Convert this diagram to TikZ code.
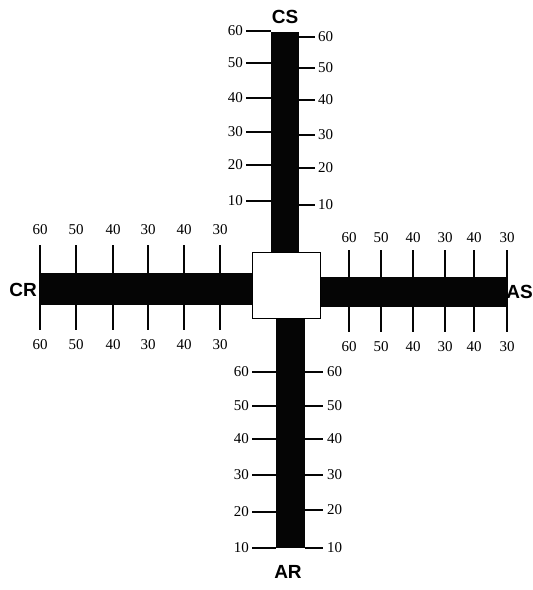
\documentclass[tikz,border=0pt]{standalone}
\usepackage{fontspec}
\setmainfont{Liberation Serif}
\setsansfont{Liberation Sans}
\definecolor{barblack}{RGB}{5,5,5}
\tikzset{
  every node/.style={font=\fontsize{15}{15}\selectfont, inner sep=0pt},
  bar/.style={fill=barblack, draw=none},
  tick/.style={line width=1.6pt, barblack},
  axlabel/.style={font=\sffamily\bfseries\fontsize{19}{19}\selectfont},
  hub/.style={draw, line width=1pt, fill=white, minimum width=68pt, minimum height=66pt},
}

\begin{document}
\begin{tikzpicture}[x=1pt,y=-1pt]
  \useasboundingbox (0,0) rectangle (533,590);
  % bars
  \draw[bar] (271,32) rectangle (299,260);
  \draw[bar] (276,310) rectangle (305,548);
  \draw[bar] (40,273) rectangle (260,305);
  \draw[bar] (312,277) rectangle (507,307);
  \node[hub] (box) at (286,285) {};

  % CS scale (top)
  \foreach \y/\v in {31/60,63/50,98/40,132/30,165/20,201/10}{
    \draw[tick] (246,\y) -- (271,\y);
    \node[anchor=east] (csl\v) at (243,\y) {\v};
  }
  \foreach \y/\v in {37/60,68/50,100/40,135/30,168/20,205/10}{
    \draw[tick] (299,\y) -- (315,\y);
    \node[anchor=west] (csr\v) at (318,\y) {\v};
  }
  % AR scale (bottom)
  \foreach \y/\v in {372/60,406/50,439/40,475/30,512/20,548/10}{
    \draw[tick] (252,\y) -- (276,\y);
    \node[anchor=east] (arl\v) at (249,\y) {\v};
  }
  \foreach \y/\v in {372/60,406/50,439/40,475/30,510/20,548/10}{
    \draw[tick] (305,\y) -- (323,\y);
    \node[anchor=west] (arr\v) at (327,\y) {\v};
  }
  % CR scale (left)
  \foreach \x/\v [count=\i] in {40/60,76/50,113/40,148/30,184/40,220/30}{
    \draw[tick] (\x,245) -- (\x,330);
    \node (crt\i) at (\x,230) {\v};
    \node (crb\i) at (\x,345) {\v};
  }
  % AS scale (right)
  \foreach \x/\v [count=\i] in {349/60,381/50,413/40,445/30,474/40,507/30}{
    \draw[tick] (\x,250) -- (\x,332);
    \node (ast\i) at (\x,238) {\v};
    \node (asb\i) at (\x,347) {\v};
  }

  \node[axlabel] (cs) at (285,17) {CS};
  \node[axlabel] (ar) at (288,572) {AR};
  \node[axlabel, anchor=east] (cr) at (37,290) {CR};
  \node[axlabel, anchor=east] (as) at (533,292) {AS};
\end{tikzpicture}
\end{document}
